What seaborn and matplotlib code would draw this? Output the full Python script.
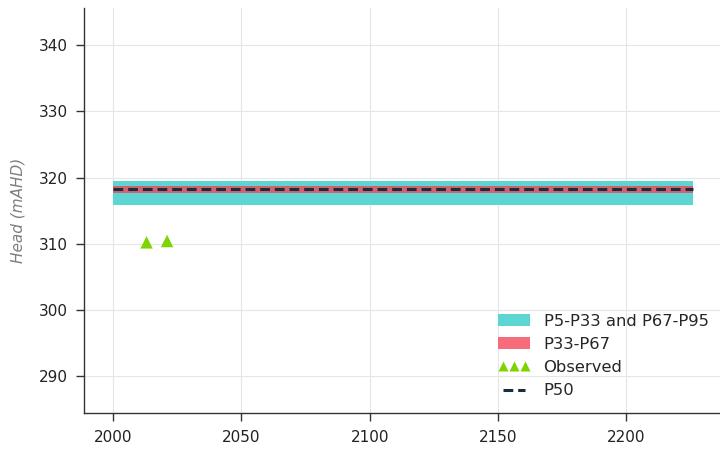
import matplotlib
matplotlib.use("Agg")
import matplotlib.pyplot as plt
from matplotlib.patches import Patch
from matplotlib.lines import Line2D
import seaborn as sns
import pandas as pd

# Percentile envelope of modelled head (mAHD)
years = [2000, 2226]
p5 = [315.8, 315.8]
p33 = [317.6, 317.6]
p50 = [318.2, 318.2]
p67 = [318.7, 318.7]
p95 = [319.5, 319.5]

# Observed heads
obs_years = [2013, 2021]
obs_head = [310.2, 310.4]

outer_color = "#5DD5D2"
inner_color = "#F66C7B"
inner_plot_color = "#D2636E"
obs_color = "#7ED400"
median_color = "#1B2C3E"
median_dash = (0, (3.2, 1.6))

sns.set_theme(style="white")
plt.rcParams["font.family"] = ["DejaVu Sans"]

fig = plt.figure(figsize=(7.2, 4.5), dpi=100)
ax = fig.add_axes([0.117, 0.082, 0.883, 0.900])

ax.fill_between(years, p5, p95, color=outer_color, linewidth=0, zorder=2)
ax.fill_between(years, p33, p67, color=inner_plot_color, linewidth=0, zorder=3)

med = pd.DataFrame({"year": years, "head": p50})
sns.lineplot(data=med, x="year", y="head", ax=ax, color=median_color,
             linewidth=2.2, dashes=False, zorder=4)
ax.lines[-1].set_linestyle(median_dash)

obs = pd.DataFrame({"year": obs_years, "head": obs_head})
sns.scatterplot(data=obs, x="year", y="head", ax=ax, marker="^", s=80,
                color=obs_color, edgecolor="none", zorder=5)

ax.set_xlim(1988.7, 2236.6)
ax.set_ylim(284.4, 345.6)
ax.set_xticks([2000, 2050, 2100, 2150, 2200])
ax.set_yticks([290, 300, 310, 320, 330, 340])
ax.grid(True, color="#E6E6E6", linewidth=0.8, zorder=0)
ax.set_axisbelow(True)

for side in ["top", "right"]:
    ax.spines[side].set_visible(False)
for side in ["left", "bottom"]:
    ax.spines[side].set_color("#333333")
    ax.spines[side].set_linewidth(1.0)

ax.tick_params(axis="both", which="major", direction="out", length=6,
               width=1, color="#333333", labelsize=11, labelcolor="#222222",
               left=True, bottom=True, pad=6)

ax.set_xlabel("")
ax.set_ylabel("Head (mAHD)", fontsize=11, color="#7F7F7F", style="italic",
              labelpad=9)

handles = [
    Patch(facecolor=outer_color, edgecolor="none"),
    Patch(facecolor=inner_color, edgecolor="none"),
    Line2D([], [], linestyle="none", marker="^", markersize=7,
           color=obs_color, markeredgecolor="none"),
    Line2D([], [], linestyle=median_dash, linewidth=2.2, color=median_color),
]
labels = ["P5-P33 and P67-P95", "P33-P67", "Observed", "P50"]
ax.legend(handles, labels, loc="lower left", bbox_to_anchor=(0.627, 0.0),
          frameon=False, fontsize=11.8, numpoints=3, handlelength=2.0,
          handletextpad=0.8, labelspacing=0.5)

fig.savefig("out.png", dpi=100)
